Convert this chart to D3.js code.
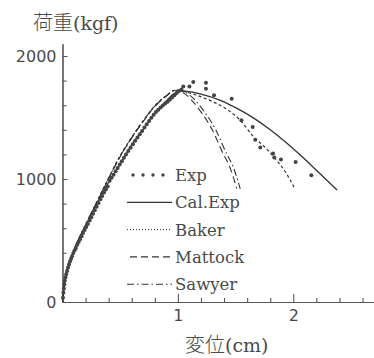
<!DOCTYPE html>
<html><head><meta charset="utf-8">
<script src="https://cdn.jsdelivr.net/npm/d3@7"></script>
<style>html,body{margin:0;padding:0;background:#fff;}svg{display:block;}</style>
</head><body>
<script>
// ---- data ----
const seriesNames = ["Exp", "Cal.Exp", "Baker", "Mattock", "Sawyer"];
const xMajorTicks = [1, 2];
const xMinorTicks = [0.2,0.4,0.6,0.8,1.2,1.4,1.6,1.8,2.2,2.4,2.6];
const yMajorTicks = [0, 1000, 2000];
const yMinorTicks = [200,400,600,800,1200,1400,1600,1800];
const xTitle = "変位(cm)";
const yTitle = "荷重(kgf)";

// Experimental points [disp, load]
const expX = [0.004,0.008,0.012,0.016,0.02,0.026,0.032,0.04,0.048,0.056,0.065,0.074,0.083,0.094,0.105,0.116,0.128,0.14,0.152,0.165,0.178,0.192,0.206,0.22,0.235,0.25,0.265,0.28,0.296,0.312,0.328,0.344,0.36,0.376,0.392,0.408,0.425,0.442,0.46,0.478,0.496,0.514,0.532,0.55,0.57,0.59,0.61,0.63,0.65,0.67,0.69,0.71,0.73,0.75,0.77,0.79,0.81,0.83,0.85,0.87,0.89,0.91,0.93,0.95,0.97,0.99,1.01,1.03,
  1.047,1.10,1.133,1.243,1.243,1.313,1.466,1.55,1.648,1.67,1.714,1.824,1.835,1.893,2.02,2.156];
const expY = [35,75,110,145,172,200,225,252,280,305,330,352,372,398,420,440,465,488,510,535,560,585,610,635,662,690,718,745,775,805,835,862,890,915,940,985,1010,1035,1062,1090,1118,1145,1172,1200,1228,1255,1283,1310,1337,1364,1390,1418,1445,1472,1498,1522,1545,1563,1582,1598,1613,1628,1645,1662,1680,1700,1715,1728,
  1753,1753,1788,1783,1734,1680,1653,1477,1423,1320,1256,1207,1174,1158,1139,1031];

const calX = [0,0.02,0.05,0.1,0.2,0.3,0.4,0.5,0.6,0.7,0.8,0.9,0.96,1.02,1.08,1.2,1.367,1.5,1.657,1.8,1.945,2.1,2.234,2.379];
const calY = [0,170,280,420,620,800,975,1120,1280,1405,1535,1635,1690,1718,1712,1690,1640,1580,1495,1400,1290,1160,1040,910];

const bakerX = [0,0.02,0.05,0.1,0.2,0.3,0.4,0.5,0.6,0.7,0.8,0.9,0.98,1.05,1.15,1.25,1.367,1.54,1.657,1.75,1.83,1.93,2.017];
const bakerY = [0,185,295,425,630,820,1010,1190,1340,1475,1595,1678,1722,1712,1685,1650,1599,1477,1342,1262,1180,1060,915];

const mattockX = [0,0.02,0.05,0.1,0.2,0.3,0.4,0.5,0.6,0.7,0.8,0.9,0.97,1.04,1.12,1.19,1.30,1.39,1.45,1.51];
const mattockY = [0,182,292,422,626,815,1003,1182,1333,1468,1590,1674,1720,1705,1640,1558,1396,1209,1096,923];

const sawyerX = [0,0.02,0.05,0.1,0.2,0.3,0.4,0.5,0.6,0.7,0.8,0.9,0.98,1.06,1.15,1.22,1.33,1.42,1.48,1.54];
const sawyerY = [0,184,294,424,628,818,1006,1186,1337,1472,1593,1677,1723,1707,1640,1558,1396,1209,1096,920];

// ---- chart ----
const W = 374, H = 358;
const svg = d3.select("body").append("svg").attr("width", W).attr("height", H)
  .style("background", "#fff");

const x = d3.scaleLinear().domain([0, 2.7]).range([62.5, 374.1]);
const y = d3.scaleLinear().domain([0, 2100]).range([302, 43.7]);

const axisColor = "#555", textColor = "#4a4a4a", lineColor = "#333";
const numFont = "'DejaVu Sans', sans-serif";
const serif = "'DejaVu Serif', serif";

// x axis
const gx = svg.append("g").attr("transform", `translate(0,${y(0)})`);
gx.call(d3.axisBottom(x).tickValues(xMinorTicks).tickSizeInner(-4).tickSizeOuter(0).tickFormat(""));
gx.append("g").call(d3.axisBottom(x).tickValues(xMajorTicks).tickSizeInner(-8).tickSizeOuter(0).tickPadding(8).tickFormat(d3.format("d")));
gx.selectAll("path.domain, line").attr("stroke", axisColor).attr("stroke-width", 1.1);
gx.selectAll("text").attr("fill", textColor).style("font-family", numFont).style("font-size", "16px");

// y axis
const gy = svg.append("g").attr("transform", `translate(${x(0)},0)`);
gy.call(d3.axisLeft(y).tickValues(yMinorTicks).tickSizeInner(-4).tickSizeOuter(0).tickFormat(""));
gy.append("g").call(d3.axisLeft(y).tickValues(yMajorTicks).tickSizeInner(-5).tickSizeOuter(0).tickPadding(6).tickFormat(d3.format("d")));
gy.selectAll("path.domain, line").attr("stroke", axisColor).attr("stroke-width", 1.1);
gy.selectAll("text").attr("fill", textColor).style("font-family", numFont).style("font-size", "16px");

// lines
const line = d3.line().x(d => x(d[0])).y(d => y(d[1])).curve(d3.curveMonotoneX);
const zip = (a, b) => a.map((v, i) => [v, b[i]]);
const styles = {
  "Cal.Exp": {dash: null, w: 1.3},
  "Baker": {dash: "3,2.5", w: 1.2},
  "Mattock": {dash: "7,4", w: 1.1},
  "Sawyer": {dash: "7,3,1.5,3", w: 1.1}
};
const lineData = [
  ["Cal.Exp", zip(calX, calY)],
  ["Baker", zip(bakerX, bakerY)],
  ["Mattock", zip(mattockX, mattockY)],
  ["Sawyer", zip(sawyerX, sawyerY)]
];
svg.append("g").selectAll("path").data(lineData).join("path")
  .attr("d", d => line(d[1]))
  .attr("fill", "none").attr("stroke", lineColor)
  .attr("stroke-width", d => styles[d[0]].w)
  .attr("stroke-dasharray", d => styles[d[0]].dash);

// exp dots
svg.append("g").selectAll("circle").data(zip(expX, expY)).join("circle")
  .attr("cx", d => x(d[0])).attr("cy", d => y(d[1])).attr("r", 2)
  .attr("fill", "#444");

// legend
const legY0 = 175, legDy = 27.3, legTextX = 175;
const leg = svg.append("g");
seriesNames.forEach((name, i) => {
  const cy = legY0 + i * legDy;
  if (name === "Exp") {
    [133, 143, 153, 163].forEach(cx => leg.append("circle").attr("cx", cx).attr("cy", cy).attr("r", 1.7).attr("fill", "#444"));
  } else {
    leg.append("line").attr("x1", name === "Mattock" ? 130 : 127).attr("x2", 172)
      .attr("y1", cy).attr("y2", cy).attr("stroke", lineColor)
      .attr("stroke-width", name === "Baker" ? 1 : styles[name].w)
      .attr("stroke-dasharray", name === "Baker" ? "1,2" : styles[name].dash);
  }
  leg.append("text").attr("x", legTextX).attr("y", cy).attr("dy", "0.36em")
    .attr("fill", textColor).style("font-family", serif).style("font-size", "16.5px")
    .text(name);
});

// titles
function title(str, xx, yy) {
  const t = svg.append("text").attr("x", xx).attr("y", yy).attr("fill", textColor).style("font-size", "20px");
  const m = str.match(/^([^(]*)(\(.*\))$/);
  t.append("tspan").style("font-family", "'Noto Sans CJK JP', sans-serif").style("font-weight", "300").text(m[1]);
  t.append("tspan").style("font-family", serif).style("font-size", "19px").text(m[2]);
}
title(yTitle, 33, 30);
title(xTitle, 185, 352);
</script>
</body></html>
